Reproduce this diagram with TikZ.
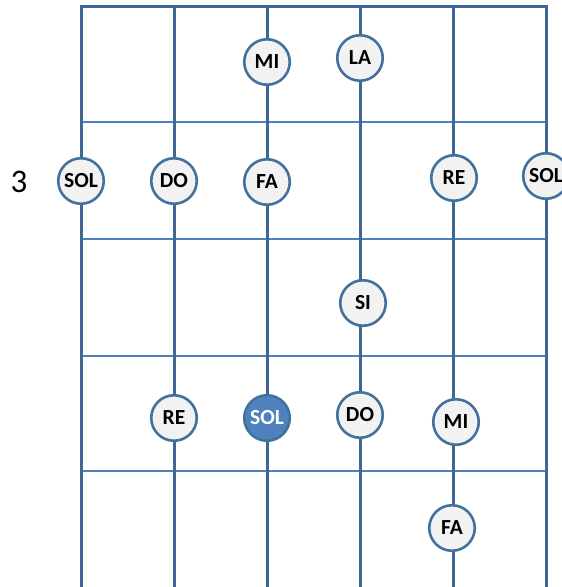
\documentclass[tikz,border=0pt]{standalone}
\usepackage{fontspec}
\setmainfont{Carlito}
\usetikzlibrary{positioning}
\definecolor{strc}{HTML}{3E6696}
\definecolor{fretc}{HTML}{4F81BD}
\definecolor{ringc}{HTML}{41719C}
\definecolor{notef}{HTML}{F2F2F2}
\tikzset{
  str/.style={line width=3pt, color=strc},
  fret/.style={line width=2.4pt, color=fretc},
  note/.style={circle, draw=ringc, fill=notef, line width=2.6pt, minimum size=45.5pt,
               inner sep=0pt, font=\bfseries\fontsize{21.5}{21.5}\selectfont},
  root/.style={note, fill=fretc, text=white},
}
\begin{document}
\begin{tikzpicture}[x=1pt,y=-1pt]
  \useasboundingbox (0,0) rectangle (562,587);
  % frets and strings
  \foreach \y in {122,239,356,471} \draw[fret] (81,\y) -- (546,\y);
  \draw[str] (81,587) -- (81,6) -- (546,6) -- (546,587);
  \foreach \x in {174,267,360,453} \draw[str] (\x,6) -- (\x,587);
  % notes
  \node[note] (mi1)  at (267,62)  {MI};
  \node[note] (la1)  at (360,58)  {LA};
  \node[note] (sol1) at (81,181)  {SOL};
  \node[note] (do1)  at (174,181) {DO};
  \node[note] (fa1)  at (267,182) {FA};
  \node[note] (re1)  at (454,178) {RE};
  \node[note] (sol2) at (546,176) {SOL};
  \node[note] (si1)  at (363,303) {SI};
  \node[note] (re2)  at (174,418) {RE};
  \node[root] (sol3) at (267,418) {SOL};
  \node[note] (do2)  at (360,415) {DO};
  \node[note] (mi2)  at (456,422) {MI};
  \node[note] (fa2)  at (452,528) {FA};
  \node[font=\fontsize{33}{33}\selectfont] (pos3) at (19,182) {3};
\end{tikzpicture}
\end{document}
